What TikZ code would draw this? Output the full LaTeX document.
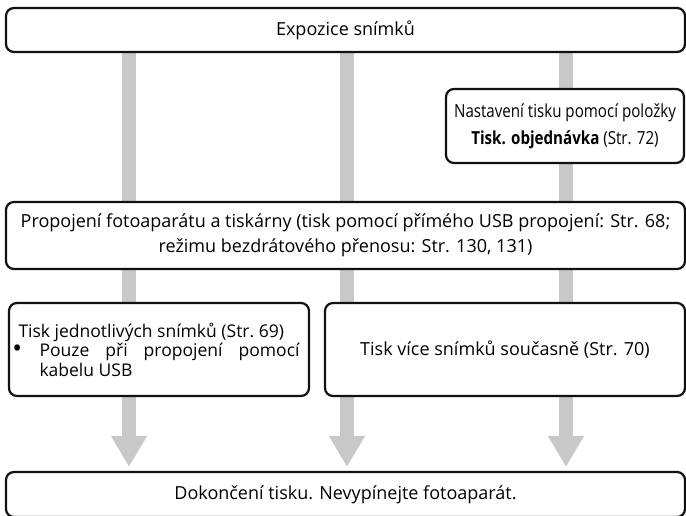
\documentclass[tikz,border=0pt]{standalone}
\usepackage{fontspec}
\setmainfont{Open Sans}
\newfontfamily\narrowfont[FakeStretch=0.84]{Open Sans}
\usetikzlibrary{arrows.meta,backgrounds}
\definecolor{flowgray}{HTML}{C8C8C8}
\definecolor{flowink}{HTML}{111111}

\begin{document}
\begin{tikzpicture}[x=1pt, y=-1pt,
  font=\fontsize{18}{20}\selectfont,
  box/.style={draw=flowink, line width=2.2pt, rounded corners=8pt, fill=white, inner sep=0pt, align=center},
  bar/.style={draw=flowgray, line width=14pt, -{Triangle[length=31pt,width=34pt]}, shorten >=4pt}
]
\useasboundingbox (0,0) rectangle (686,516);

\node[box, minimum width=679pt, minimum height=44pt] (top) at (345.5,30) {Expozice snímků};
\node[box, minimum width=238pt, minimum height=74pt, font=\narrowfont\fontsize{18}{27}\selectfont] (plan) at (565,126)
  {Nastavení tisku pomocí položky\\\textbf{Tisk. objednávka} (Str. 72)};
\node[box, minimum width=679pt, minimum height=67pt, font=\fontsize{18}{25}\selectfont] (conn) at (345.5,235.5)
  {Propojení fotoaparátu a tiskárny (tisk pomocí přímého USB propojení: Str. 68;\\režimu bezdrátového přenosu: Str. 130, 131)};
\node[box, minimum width=300pt, minimum height=93pt, text width=281pt, align=justify, font=\fontsize{17.5}{19.5}\selectfont] (single) at (159,349.5)
  {Tisk jednotlivých snímků (Str.~69)\par
   \noindent\hangindent=21pt\hangafter=0\hyphenpenalty=10000\exhyphenpenalty=10000
   \llap{\makebox[27pt][l]{\raisebox{-1pt}{\fontsize{26}{20}\selectfont\textbullet}}}Pouze při propojení pomocí kabelu USB\par};
\node[box, minimum width=360pt, minimum height=93pt] (multi) at (505,349.5) {Tisk více snímků současně (Str. 70)};
\node[box, minimum width=679pt, minimum height=45pt] (done) at (345.5,494.5) {Dokončení tisku. Nevypínejte fotoaparát.};

% gray flow bars behind the boxes
\coordinate (c1) at (129,0);
\coordinate (c2) at (347,0);
\coordinate (c3) at (566,0);
\begin{scope}[on background layer]
\draw[bar] (top.south -| c1) -- (done.north -| c1);
\draw[bar] (top.south -| c2) -- (done.north -| c2);
\draw[bar] (top.south -| c3) -- (done.north -| c3);
\end{scope}
\end{tikzpicture}
\end{document}
